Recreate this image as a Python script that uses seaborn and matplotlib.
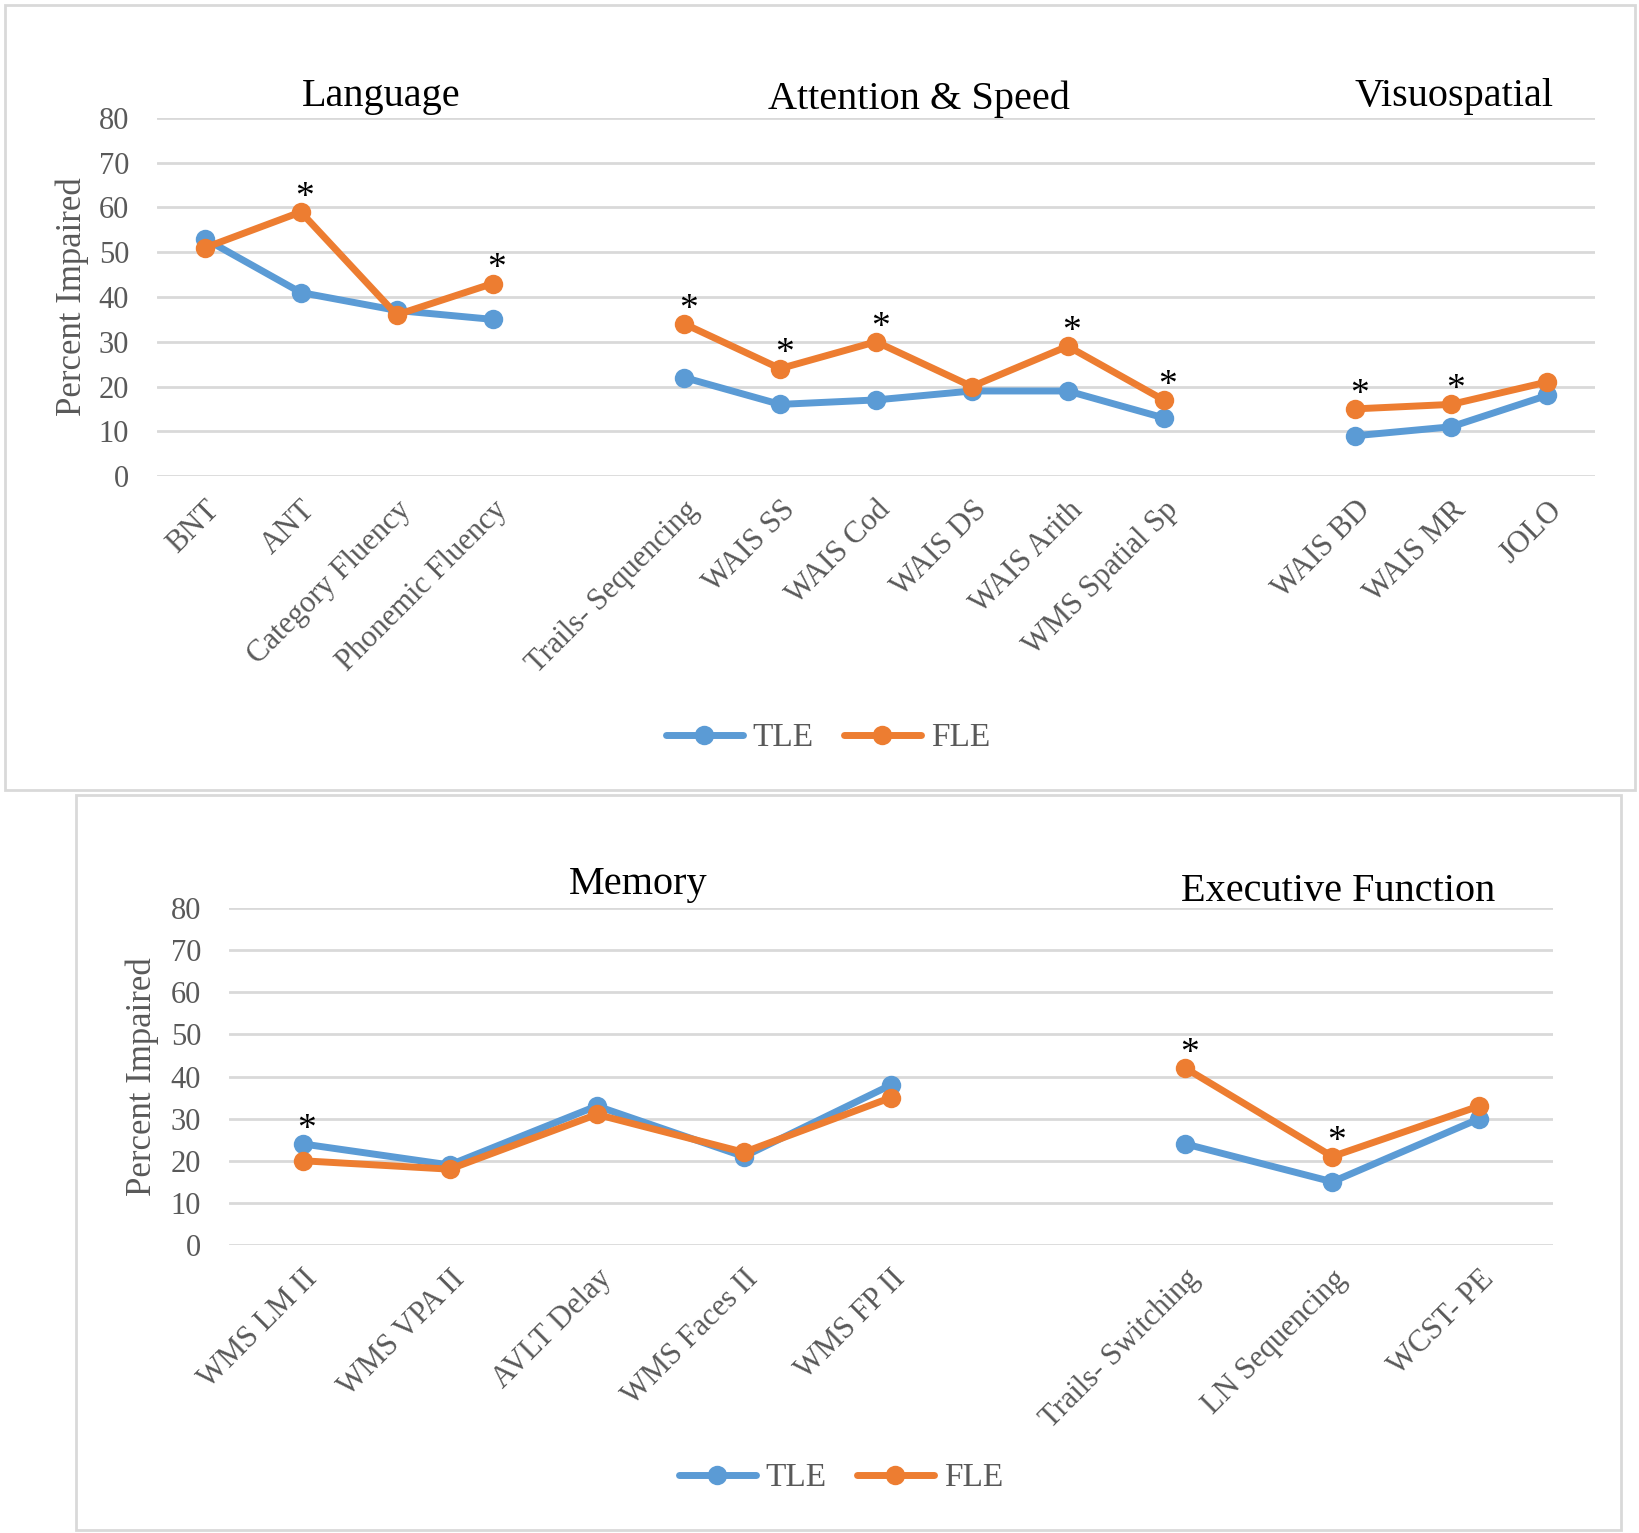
import numpy as np
import pandas as pd
import matplotlib.pyplot as plt
import matplotlib.patches as patches
from matplotlib.lines import Line2D
import seaborn as sns

# ---- data ----
top_tests = ["BNT", "ANT", "Category Fluency", "Phonemic Fluency", "",
             "Trails- Sequencing", "WAIS SS", "WAIS Cod", "WAIS DS", "WAIS Arith", "WMS Spatial Sp", "",
             "WAIS BD", "WAIS MR", "JOLO"]
top_domain = ["Language"] * 4 + [None] + ["Attention & Speed"] * 6 + [None] + ["Visuospatial"] * 3
top_tle = [53, 41, 37, 35, np.nan, 22, 16, 17, 19, 19, 13, np.nan, 9, 11, 18]
top_fle = [51, 59, 36, 43, np.nan, 34, 24, 30, 20, 29, 17, np.nan, 15, 16, 21]
top_star = [0, 1, 0, 1, 0, 1, 1, 1, 0, 1, 1, 0, 1, 1, 0]  # 1 = star above FLE

bot_tests = ["WMS LM II", "WMS VPA II", "AVLT Delay", "WMS Faces II", "WMS FP II", "",
             "Trails- Switching", "LN Sequencing", "WCST- PE"]
bot_domain = ["Memory"] * 5 + [None] + ["Executive Function"] * 3
bot_tle = [24, 19, 33, 21, 38, np.nan, 24, 15, 30]
bot_fle = [20, 18, 31, 22, 35, np.nan, 42, 21, 33]
bot_star = [2, 0, 0, 0, 0, 0, 1, 1, 0]  # 2 = star above TLE

BLUE = "#5B9BD5"
ORANGE = "#ED7D31"
GRAY = "#595959"
GRID = "#D9D9D9"

sns.set_style("white")
plt.rcParams['font.family'] = ['Liberation Serif', 'DejaVu Serif']


def long_table(tests, domain, tle, fle):
    rows = []
    for i, (t, d) in enumerate(zip(tests, domain)):
        if d is None:
            continue
        rows.append({"pos": i, "test": t, "domain": d, "group": "TLE", "value": tle[i]})
        rows.append({"pos": i, "test": t, "domain": d, "group": "FLE", "value": fle[i]})
    return pd.DataFrame(rows)


def draw_panel(ax, tests, domain, tle, fle, stars, titles):
    df = long_table(tests, domain, tle, fle)
    sns.lineplot(data=df, x="pos", y="value", hue="group", units="domain",
                 estimator=None, palette={"TLE": BLUE, "FLE": ORANGE},
                 hue_order=["TLE", "FLE"], marker="o", markersize=14,
                 markeredgewidth=0, linewidth=5, legend=False, ax=ax,
                 sort=False)
    ax.set_xlim(-0.5, len(tests) - 0.5)
    ax.set_ylim(0, 80)
    ax.set_yticks(range(0, 81, 10))
    ax.yaxis.grid(True, color=GRID, linewidth=2)
    ax.set_axisbelow(True)
    for s in ax.spines.values():
        s.set_visible(False)
    ax.set_xticks(range(len(tests)))
    ax.set_xticklabels(tests, rotation=45, ha="right", rotation_mode="anchor",
                       fontsize=22, color=GRAY)
    ax.tick_params(axis="x", length=0, pad=14)
    ax.tick_params(axis="y", length=0, pad=20, labelsize=22, labelcolor=GRAY)
    ax.set_xlabel("")
    ax.set_ylabel("Percent Impaired", fontsize=25, color=GRAY)
    for i, s in enumerate(stars):
        if s == 0:
            continue
        yv = fle[i] if s == 1 else tle[i]
        ax.annotate("*", (i, yv), xytext=(3, -2), textcoords="offset points",
                    ha="center", va="bottom", fontsize=27, color="black")
    for name, xpos, ypos in titles:
        ax.text(xpos, ypos, name, ha="center", va="center", fontsize=29,
                color="black", clip_on=False)


fig = plt.figure(figsize=(16.4, 15.33), dpi=100)
W, H = 1640, 1533

# panel frames
fig.add_artist(patches.Rectangle((5 / W, 1 - 790 / H), 1630 / W, 785 / H,
                                 transform=fig.transFigure, fill=False,
                                 edgecolor=GRID, linewidth=2))
fig.add_artist(patches.Rectangle((76 / W, 1 - 1530 / H), 1545 / W, 735 / H,
                                 transform=fig.transFigure, fill=False,
                                 edgecolor=GRID, linewidth=2))

ax1 = fig.add_axes([157 / W, 1 - 476 / H, (1595 - 157) / W, (476 - 118) / H])
draw_panel(ax1, top_tests, top_domain, top_tle, top_fle, top_star,
           [("Language", 1.84, 84.9), ("Attention & Speed", 7.45, 84.2),
            ("Visuospatial", 13.03, 84.9)])
ax1.yaxis.set_label_coords(-0.047, 0.5)

ax2 = fig.add_axes([229 / W, 1 - 1245 / H, (1553 - 229) / W, (1245 - 908) / H])
draw_panel(ax2, bot_tests, bot_domain, bot_tle, bot_fle, bot_star,
           [("Memory", 2.28, 85.5), ("Executive Function", 7.04, 84.0)])
ax2.yaxis.set_label_coords(-0.053, 0.5)

handles = [Line2D([], [], color=BLUE, marker="o", markersize=14, markeredgewidth=0, linewidth=5),
           Line2D([], [], color=ORANGE, marker="o", markersize=14, markeredgewidth=0, linewidth=5)]
for cy, cx in [(738, 828), (1478, 841)]:
    fig.legend(handles, ["TLE", "FLE"], loc="center", bbox_to_anchor=(cx / W, 1 - cy / H),
               ncol=2, frameon=False, fontsize=24, handlelength=2.3,
               handletextpad=0.3, columnspacing=0.9, labelcolor=GRAY)

fig.savefig("out.png", dpi=100)
